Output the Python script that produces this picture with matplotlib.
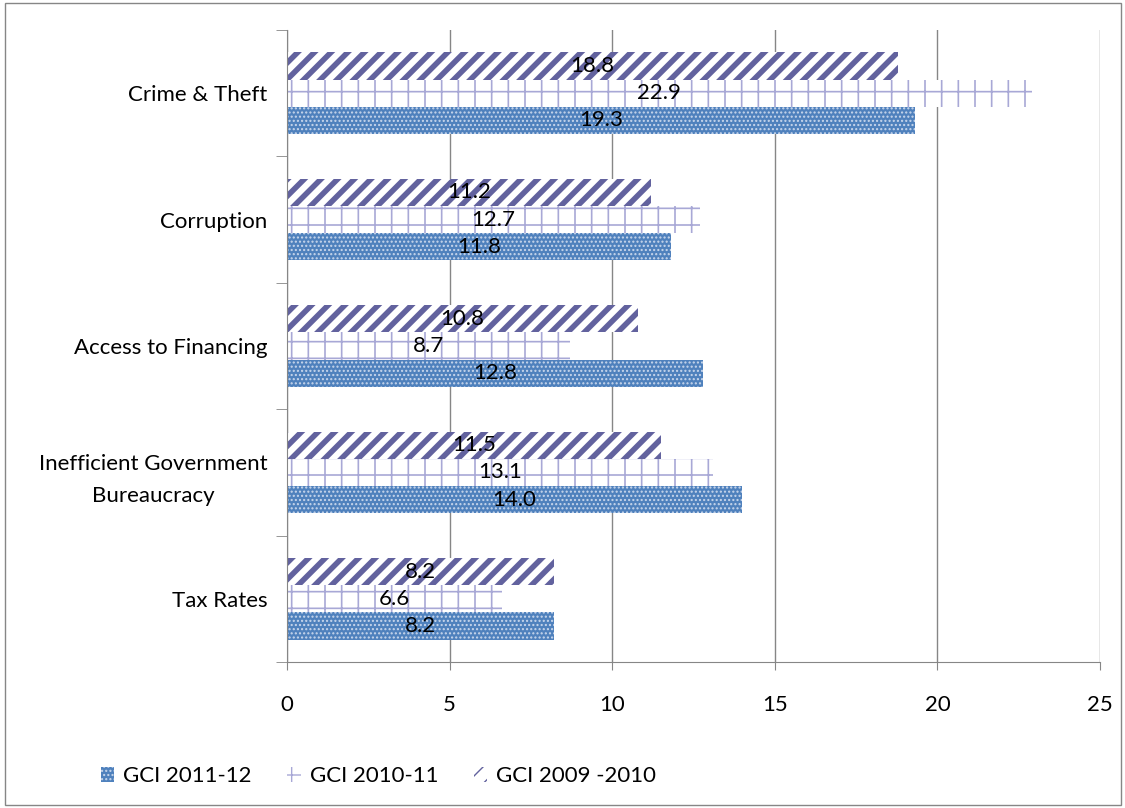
import matplotlib.pyplot as plt
import numpy as np
from matplotlib.patches import Rectangle

plt.rcParams['font.family'] = ['Lato', 'DejaVu Sans']

categories = ["Tax Rates", "Inefficient Government\nBureaucracy", "Access to Financing",
              "Corruption", "Crime & Theft"]
gci_2011 = [8.2, 14.0, 12.8, 11.8, 19.3]
gci_2010 = [6.6, 13.1, 8.7, 12.7, 22.9]
gci_2009 = [8.2, 11.5, 10.8, 11.2, 18.8]

fig = plt.figure(figsize=(11.25, 8.08), dpi=100)
ax = fig.add_axes([0.2551, 0.1807, 0.7227, 0.7822])

y = np.arange(len(categories))
h = 0.215

plt.rcParams['hatch.linewidth'] = 1.0
b1 = ax.barh(y - h, gci_2011, height=h, color='#4F81BD', edgecolor='#C9D7EC',
             hatch='....', linewidth=0, label='GCI 2011-12')
b2 = ax.barh(y, gci_2010, height=h, color='white', edgecolor='#A8A8D6',
             hatch='+', linewidth=0, label='GCI 2010-11')
b3 = ax.barh(y + h, gci_2009, height=h, color='white', edgecolor='#62629E',
             hatch='//', linewidth=0, label='GCI 2009 -2010')
for p in b3:
    try:
        p.set_hatch_linewidth(4.0)
    except AttributeError:
        pass
for p in b2:
    try:
        p.set_hatch_linewidth(1.2)
    except AttributeError:
        pass

for bars, vals in ((b1, gci_2011), (b2, gci_2010), (b3, gci_2009)):
    for p, v in zip(bars, vals):
        ax.text(v / 2, p.get_y() + p.get_height() / 2, f"{v:.1f}",
                ha='center', va='center', fontsize=16, color='black')

ax.set_xlim(0, 25)
ax.set_ylim(-0.5, len(categories) - 0.5)
ax.set_xticks(range(0, 26, 5))
ax.set_yticks(y)
ax.set_yticklabels(categories, fontsize=16)
for lbl in ax.get_yticklabels():
    lbl.set_multialignment('center')
    lbl.set_linespacing(1.7)
ax.tick_params(axis='y', length=0, pad=14)
ax.tick_params(axis='x', labelsize=16, pad=18, length=6, color='#868686')
ax.set_yticks(np.arange(-0.5, len(categories), 1), minor=True)
ax.tick_params(axis='y', which='minor', length=8, color='#868686')

ax.grid(axis='x', color='#868686', linewidth=1)
ax.set_axisbelow(True)
for s in ('top', 'right'):
    ax.spines[s].set_visible(False)
for s in ('left', 'bottom'):
    ax.spines[s].set_color('#868686')

fig.legend(handles=[b1, b2, b3], loc='lower left', bbox_to_anchor=(0.072, 0.002),
           ncol=3, frameon=False, fontsize=16, handlelength=0.6, handleheight=0.6,
           handletextpad=0.4, columnspacing=1.6)

fig.patches.append(Rectangle((0.004, 0.004), 0.992, 0.992, transform=fig.transFigure,
                             fill=False, edgecolor='#868686', linewidth=1))

fig.savefig('out.png', dpi=100)
